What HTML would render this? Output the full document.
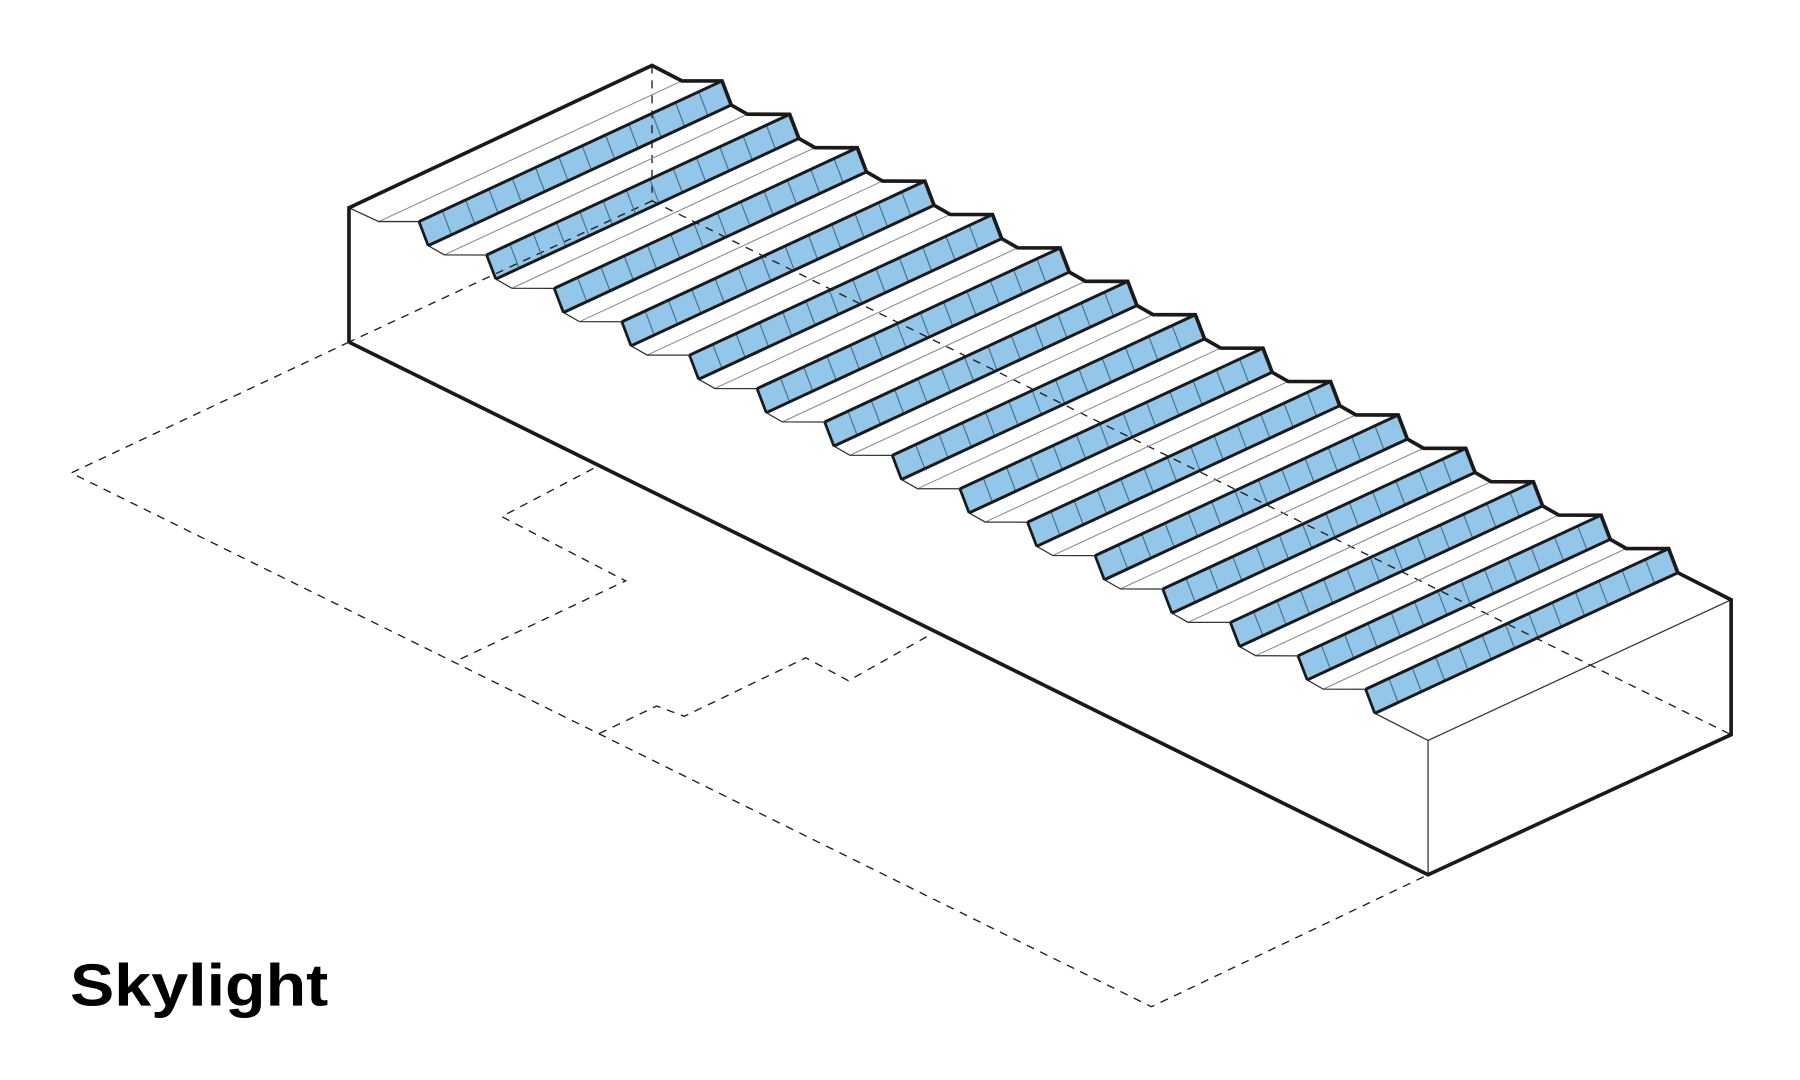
<!DOCTYPE html>
<html><head><meta charset="utf-8">
<style>html,body{margin:0;padding:0;background:#fff;width:1800px;height:1080px;overflow:hidden}svg{display:block}</style>
</head><body>
<svg id="s" width="1800" height="1080" viewBox="0 0 1568 940.8" preserveAspectRatio="none" xmlns="http://www.w3.org/2000/svg">
<g id="g"></g>
<text x="61" y="876" font-family="Liberation Sans, Arial, sans-serif" font-weight="bold" font-size="52" textLength="225" lengthAdjust="spacingAndGlyphs" fill="#000">Skylight</text>
</svg>
<script>
(function(){
var g=document.getElementById('g'),out='';
var W=[264,-122.5],D=[58.9,29.1],GB=[8,21],BK=[14,8];
function p(a){return a[0].toFixed(1)+','+a[1].toFixed(1);}
function add(a,b){return [a[0]+b[0],a[1]+b[1]];}
function sc(a,t){return [a[0]*t,a[1]*t];}
function line(a,b,st){out+='<line x1="'+a[0].toFixed(1)+'" y1="'+a[1].toFixed(1)+'" x2="'+b[0].toFixed(1)+'" y2="'+b[1].toFixed(1)+'" '+st+'/>';}
var N=15,G=[],B=[],K=[];
for(var k=0;k<N;k++){var gk=[365+D[0]*k,193+D[1]*k];G.push(gk);B.push(add(gk,GB));K.push(add(add(gk,GB),BK));}
var S0=[304,181],S1=[330,193],E=[1244,645];
var prof=[S0,S1];
for(k=0;k<N;k++){prof.push(G[k]);prof.push(B[k]);if(k<N-1)prof.push(K[k]);}
prof.push(E);
var poly=[[304,298]].concat(prof).concat([E]);
var back=prof.map(function(q){return add(q,W);}).reverse();
out+='<polygon points="'+poly.map(p).join(' ')+' '+back.map(p).join(' ')+' 1508,640 1244,762" fill="#fff"/>';
for(k=0;k<N;k++){
 out+='<polygon points="'+[G[k],add(G[k],W),add(B[k],W),B[k]].map(p).join(' ')+'" fill="#93c6e8"/>';
}
var dash='stroke="#222" stroke-width="1.2" stroke-dasharray="7,6" fill="none"';
line([568,57],[568,175],dash);
line([568,175],[304,298],dash);
line([568,175],[1508,640],dash);
out+='<polyline points="304,298 62,412 1003,877 1244,762" '+dash+'/>';
out+='<polyline points="517,408 437,450 545,506 397,576" '+dash+'/>';
out+='<polyline points="522,639 572,615 596,624 702,573 739,593 812,552" '+dash+'/>';
for(k=0;k<N;k++){
 for(var i=1;i<13;i++){var t=i/13;line(add(G[k],sc(W,t)),add(B[k],sc(W,t)),'stroke="#46708f" stroke-width="1"');}
}
line(S1,add(S1,W),'stroke="#888" stroke-width="0.9"');
for(k=0;k<N-1;k++)line(K[k],add(K[k],W),'stroke="#888" stroke-width="0.9"');
out+='<polyline points="'+prof.map(p).join(' ')+'" fill="none" stroke="#333" stroke-width="1.1"/>';
for(k=0;k<N;k++){
 line(G[k],add(G[k],W),'stroke="#1a1a1a" stroke-width="2.6"');
 line(B[k],add(B[k],W),'stroke="#1a1a1a" stroke-width="2.6"');
 line(G[k],B[k],'stroke="#1a1a1a" stroke-width="2.4"');
}
line(E,[1244,762],'stroke="#333" stroke-width="1.1"');
line(E,add(E,W),'stroke="#333" stroke-width="1.1"');
out+='<polyline points="304,298 304,181 568,57 '+back.reverse().slice(1).map(p).join(' ')+' 1508,640 1244,762 304,298" fill="none" stroke="#1a1a1a" stroke-width="3.2" stroke-linejoin="miter"/>';
g.innerHTML=out;
})();
</script>
</body></html>
